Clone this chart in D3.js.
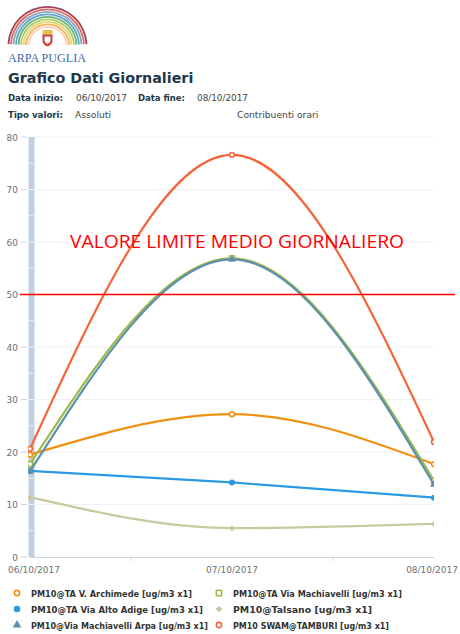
<!DOCTYPE html>
<html><head><meta charset="utf-8">
<script src="https://cdn.jsdelivr.net/npm/d3@7"></script>
<style>
html,body{margin:0;padding:0;background:#fff;}
svg{display:block;font-family:"DejaVu Sans",Verdana,sans-serif;}
</style></head>
<body>
<svg id="c" width="460" height="634"></svg>
<script>
const dates = ["06/10/2017","07/10/2017","08/10/2017"];
const yTicks = [0,10,20,30,40,50,60,70,80];
const seriesNames = [
  "PM10@TA V. Archimede [ug/m3 x1]",
  "PM10@TA Via Alto Adige [ug/m3 x1]",
  "PM10@Via Machiavelli Arpa [ug/m3 x1]",
  "PM10@TA Via Machiavelli [ug/m3 x1]",
  "PM10@Talsano [ug/m3 x1]",
  "PM10 SWAM@TAMBURI [ug/m3 x1]"
];
const archimede   = [19.5, 27.2, 17.7];
const altoAdige   = [16.4, 14.2, 11.3];
const machArpa    = [16.3, 56.7, 13.8];
const machTA      = [17.7, 56.9, 14.5];
const talsano     = [11.4, 5.5, 6.3];
const tamburi     = [20.6, 76.6, 21.9];
const limitValue = 50;
const limitLabel = "VALORE LIMITE MEDIO GIORNALIERO";

const colors = ["#f0900f","#2b9ae0","#5f8fae","#9aba4c","#c9c99d","#f2663a"];
const symbols = ["circleHollow","circle","triangle","squareHollow","diamond","circleHollow"];
const allValues = [archimede, altoAdige, machArpa, machTA, talsano, tamburi];
const drawOrder = [4,1,0,3,2,5];

const svg = d3.select("#c");

// ---- Logo ----
const logo = svg.append("g");
const arcCols = ["#8f2534","#d9504a","#7d95b5","#3d98c4","#4fa45a","#9cc35a","#e6cf4c","#f0a14a","#f6c9a4"];
arcCols.forEach((c,i)=>{
  const r = 40 - i*2.5;
  logo.append("path")
    .attr("d", d3.arc()({innerRadius:r-1.8, outerRadius:r, startAngle:-Math.PI/2*0.97, endAngle:Math.PI/2*0.97}))
    .attr("transform","translate(47.5,46)")
    .attr("fill",c).attr("opacity",0.85);
});
logo.append("rect").attr("x",42.5).attr("y",30).attr("width",10).attr("height",4.5).attr("fill","#e3c24a");
logo.append("path").attr("d","M42.5,34.5 h10 v6 q0,4 -5,6 q-5,-2 -5,-6 z").attr("fill","#d63a35");
logo.append("path").attr("d","M44.5,36.5 h6 v4 q0,2 -3,3.5 q-3,-1.5 -3,-3.5 z").attr("fill","#fff");
logo.append("text").attr("x",8).attr("y",62).text("ARPA PUGLIA")
  .attr("font-family","'Liberation Serif','DejaVu Serif',serif").attr("font-size",13)
  .attr("textLength",78).attr("lengthAdjust","spacingAndGlyphs").attr("fill","#3d6aa8");

// ---- Header ----
svg.append("text").attr("x",8).attr("y",83).text("Grafico Dati Giornalieri")
  .attr("font-weight","bold").attr("font-size",14.3).attr("fill","#22384a");
const hdr = svg.append("g").attr("font-size",9.2).attr("fill","#22384a");
function ht(xp, yp, t, bold, w){
  const e = hdr.append("text").attr("x",xp).attr("y",yp).text(t);
  if(bold) e.attr("font-weight","bold").attr("font-size",8.8); else e.attr("fill","#444");
  if(w) e.attr("textLength",w).attr("lengthAdjust","spacingAndGlyphs");
}
ht(8,101,"Data inizio:",true,55);
ht(76,101,"06/10/2017",false,51);
ht(138,101,"Data fine:",true,47);
ht(197,101,"08/10/2017",false,51);
ht(8,118,"Tipo valori:",true,55);
ht(75,118,"Assoluti",false,null);
ht(237,118,"Contribuenti orari",false,null);

// ---- Scales ----
const x = d3.scalePoint().domain(dates).range([30,434]);
const y = d3.scaleLinear().domain([0,80]).range([557,137]);

svg.append("g").selectAll("line").data(yTicks.filter(d=>d>0)).join("line")
  .attr("x1",30).attr("x2",434).attr("y1",d=>y(d)).attr("y2",d=>y(d))
  .attr("stroke","#f0f0f0").attr("stroke-width",1);

const ya = svg.append("g").attr("font-size",9).attr("fill","#707070");
ya.selectAll("text").data(yTicks).join("text")
  .attr("x",18).attr("y",d=>y(d)+3.5).attr("text-anchor","end").text(d=>d);
ya.selectAll("line").data(yTicks).join("line")
  .attr("x1",21).attr("x2",27).attr("y1",d=>y(d)).attr("y2",d=>y(d))
  .attr("stroke","#c8d4e0").attr("stroke-width",1);

svg.append("rect").attr("x",28.5).attr("y",y(80)).attr("width",6).attr("height",y(0)-y(80)).attr("fill","#c1cfdf");
svg.append("g").selectAll("line").data(d3.range(5,80,5)).join("line")
  .attr("x1",28.5).attr("x2",34.5).attr("y1",d=>y(d)).attr("y2",d=>y(d))
  .attr("stroke","#e6ecf3").attr("stroke-width",1);

svg.append("line").attr("x1",30).attr("x2",434).attr("y1",557.5).attr("y2",557.5).attr("stroke","#ccd6e0");
const midTicks = [x(dates[0])+(x(dates[1])-x(dates[0]))/2, x(dates[1])+(x(dates[2])-x(dates[1]))/2];
svg.append("g").selectAll("line").data(midTicks).join("line")
  .attr("x1",d=>d).attr("x2",d=>d).attr("y1",557.5).attr("y2",561).attr("stroke","#ccd6e0");
svg.append("g").attr("font-size",9).attr("fill","#707070").selectAll("text").data(dates).join("text")
  .attr("x",(d,i)=> i===2 ? 458 : x(d)+ (i===0?4:0))
  .attr("y",573).attr("text-anchor",(d,i)=> i===2?"end":"middle").text(d=>d);

svg.append("defs").append("clipPath").attr("id","pc").append("rect")
  .attr("x",28).attr("y",130).attr("width",406).attr("height",430);

const line = d3.line().x((d,i)=>x(dates[i])).y(d=>y(d)).curve(d3.curveMonotoneX);
const plot = svg.append("g").attr("clip-path","url(#pc)");

function drawSymbol(g, type, cx, cy, col, size){
  if(type==="circleHollow"){
    g.append("circle").attr("cx",cx).attr("cy",cy).attr("r",size*0.8).attr("fill","#fff").attr("stroke",col).attr("stroke-width",1.6);
  } else if(type==="circle"){
    g.append("circle").attr("cx",cx).attr("cy",cy).attr("r",size).attr("fill",col);
  } else if(type==="squareHollow"){
    g.append("rect").attr("x",cx-size*0.8).attr("y",cy-size*0.8).attr("width",size*1.6).attr("height",size*1.6).attr("fill","#fff").attr("stroke",col).attr("stroke-width",1.6);
  } else if(type==="triangle"){
    g.append("path").attr("d",d3.symbol().type(d3.symbolTriangle).size(size*size*3)()).attr("transform",`translate(${cx},${cy})`).attr("fill",col);
  } else {
    g.append("path").attr("d",`M0,${-size}L${size},0L0,${size}L${-size},0Z`).attr("transform",`translate(${cx},${cy})`).attr("fill",col);
  }
}

drawOrder.forEach(si=>{
  const vals = allValues[si];
  plot.append("path").datum(vals).attr("d",line).attr("fill","none")
    .attr("stroke",colors[si]).attr("stroke-width",2.2);
  vals.forEach((v,i)=>{
    drawSymbol(plot, symbols[si], x(dates[i]), y(v), colors[si], 3);
  });
});

svg.append("line").attr("x1",20).attr("x2",455).attr("y1",y(limitValue)).attr("y2",y(limitValue))
  .attr("stroke","#ff0000").attr("stroke-width",1.6);
svg.append("text").attr("x",237).attr("y",248).attr("text-anchor","middle")
  .attr("font-family","'Open Sans','Liberation Sans',sans-serif").attr("font-size",19).attr("fill","#ff0000")
  .attr("textLength",334).attr("lengthAdjust","spacingAndGlyphs")
  .text(limitLabel);

// legend
const leg = svg.append("g").attr("font-size",9).attr("font-weight","bold").attr("fill","#333")
  .attr("font-family","'DejaVu Sans Condensed','DejaVu Sans',sans-serif");
const legW = [161,172,177,169,139,156];
seriesNames.forEach((n,i)=>{
  const c = i<3 ? 0 : 1;
  const r = i%3;
  const lx = c===0 ? 17 : 219;
  const ly = 593 + r*16;
  drawSymbol(leg, symbols[i], lx, ly, colors[i], 3.3);
  leg.append("text").attr("x",lx+14).attr("y",ly+3.5).text(n)
    .attr("textLength",legW[i]).attr("lengthAdjust","spacingAndGlyphs");
});
</script>
</body></html>
